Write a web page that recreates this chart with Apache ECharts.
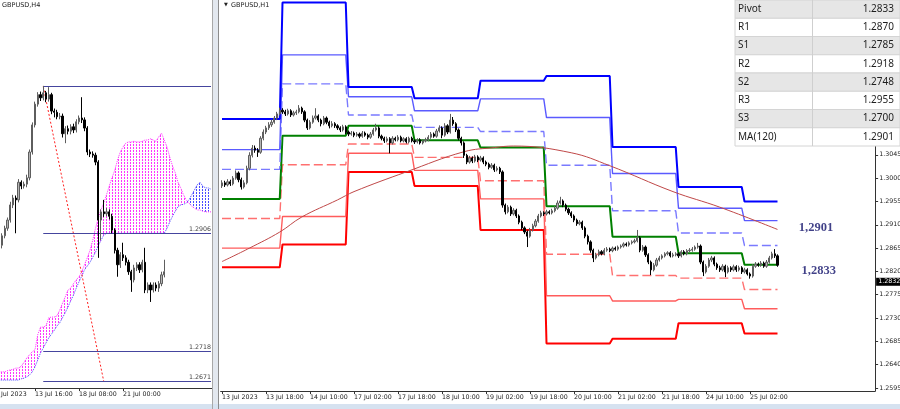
<!DOCTYPE html>
<html><head><meta charset="utf-8">
<script src="https://cdn.jsdelivr.net/npm/echarts@6/dist/echarts.min.js"></script>
<style>html,body{margin:0;padding:0;background:#fff;overflow:hidden}#c{width:900px;height:409px}</style>
</head><body><div id="c"></div><script>
// ---------------- RIGHT PANEL (GBPUSD H1) ----------------
const rTickIdx = [0,16,32,48,64,80,96,112,128,144,160,176,192];
const rTickText = ['13 Jul 2023','13 Jul 18:00','14 Jul 10:00','17 Jul 02:00','17 Jul 18:00','18 Jul 10:00','19 Jul 02:00','19 Jul 18:00','20 Jul 10:00','21 Jul 02:00','21 Jul 18:00','24 Jul 10:00','25 Jul 02:00'];
const rYTicks = [1.2595,1.2640,1.2685,1.2730,1.2775,1.2820,1.2865,1.2910,1.2955,1.3000,1.3045];
const rOpen = [1.2985,1.2991,1.2987,1.2993,1.2989,1.3000,1.3010,1.2997,1.2983,1.2991,
1.3019,1.3044,1.3058,1.3054,1.3050,1.3077,1.3089,1.3097,1.3103,1.3108,
1.3116,1.3124,1.3131,1.3128,1.3124,1.3130,1.3122,1.3126,1.3128,1.3135,
1.3128,1.3112,1.3097,1.3108,1.3116,1.3120,1.3112,1.3105,1.3116,1.3108,
1.3101,1.3105,1.3101,1.3097,1.3093,1.3099,1.3089,1.3085,1.3087,1.3083,
1.3085,1.3081,1.3087,1.3083,1.3079,1.3085,1.3093,1.3097,1.3081,1.3077,
1.3072,1.3076,1.3068,1.3077,1.3074,1.3079,1.3072,1.3076,1.3070,1.3077,
1.3072,1.3070,1.3074,1.3068,1.3072,1.3074,1.3079,1.3085,1.3081,1.3091,
1.3097,1.3083,1.3101,1.3089,1.3112,1.3105,1.3093,1.3077,1.3068,1.3044,
1.3031,1.3039,1.3033,1.3041,1.3035,1.3039,1.3031,1.3027,1.3021,1.3025,
1.3016,1.3019,1.3012,1.2948,1.2935,1.2944,1.2931,1.2938,1.2927,1.2915,
1.2904,1.2896,1.2888,1.2900,1.2908,1.2917,1.2927,1.2933,1.2931,1.2935,
1.2933,1.2937,1.2942,1.2952,1.2956,1.2948,1.2940,1.2933,1.2927,1.2919,
1.2912,1.2915,1.2904,1.2888,1.2877,1.2861,1.2846,1.2852,1.2858,1.2854,
1.2861,1.2863,1.2860,1.2865,1.2863,1.2867,1.2869,1.2873,1.2871,1.2875,
1.2877,1.2879,1.2885,1.2861,1.2867,1.2852,1.2838,1.2823,1.2832,1.2842,
1.2846,1.2850,1.2854,1.2856,1.2850,1.2852,1.2854,1.2850,1.2858,1.2854,
1.2860,1.2861,1.2863,1.2867,1.2869,1.2838,1.2819,1.2830,1.2842,1.2846,
1.2834,1.2827,1.2823,1.2830,1.2819,1.2827,1.2823,1.2829,1.2823,1.2827,
1.2819,1.2823,1.2815,1.2811,1.2830,1.2834,1.2832,1.2836,1.2830,1.2838,
1.2846,1.2854,1.2850];
const rClose = [1.2991,1.2987,1.2993,1.2989,1.3000,1.3010,1.2997,1.2983,1.2991,1.3019,
1.3044,1.3058,1.3054,1.3050,1.3077,1.3089,1.3097,1.3103,1.3108,1.3116,
1.3124,1.3131,1.3128,1.3124,1.3130,1.3122,1.3126,1.3128,1.3135,1.3128,
1.3112,1.3097,1.3108,1.3116,1.3120,1.3112,1.3105,1.3116,1.3108,1.3101,
1.3105,1.3101,1.3097,1.3093,1.3099,1.3089,1.3085,1.3087,1.3083,1.3085,
1.3081,1.3087,1.3083,1.3079,1.3085,1.3093,1.3097,1.3081,1.3077,1.3072,
1.3076,1.3068,1.3077,1.3074,1.3079,1.3072,1.3076,1.3070,1.3077,1.3072,
1.3070,1.3074,1.3068,1.3072,1.3074,1.3079,1.3085,1.3081,1.3091,1.3097,
1.3083,1.3101,1.3089,1.3112,1.3105,1.3093,1.3077,1.3068,1.3044,1.3031,
1.3039,1.3033,1.3041,1.3035,1.3039,1.3031,1.3027,1.3021,1.3025,1.3016,
1.3019,1.3012,1.2948,1.2935,1.2944,1.2931,1.2938,1.2927,1.2915,1.2904,
1.2896,1.2888,1.2900,1.2908,1.2917,1.2927,1.2933,1.2931,1.2935,1.2933,
1.2937,1.2942,1.2952,1.2956,1.2948,1.2940,1.2933,1.2927,1.2919,1.2912,
1.2915,1.2904,1.2888,1.2877,1.2861,1.2846,1.2852,1.2858,1.2854,1.2861,
1.2863,1.2860,1.2865,1.2863,1.2867,1.2869,1.2873,1.2871,1.2875,1.2877,
1.2879,1.2885,1.2861,1.2867,1.2852,1.2838,1.2823,1.2832,1.2842,1.2846,
1.2850,1.2854,1.2856,1.2850,1.2852,1.2854,1.2850,1.2858,1.2854,1.2860,
1.2861,1.2863,1.2867,1.2869,1.2838,1.2819,1.2830,1.2842,1.2846,1.2834,
1.2827,1.2823,1.2830,1.2819,1.2827,1.2823,1.2829,1.2823,1.2827,1.2819,
1.2823,1.2815,1.2811,1.2830,1.2834,1.2832,1.2836,1.2830,1.2838,1.2846,
1.2854,1.2850,1.2832];
const rHigh = [1.2996,1.2995,1.2998,1.2997,1.3004,1.3015,1.3013,1.3001,1.2996,1.3024,
1.3050,1.3064,1.3063,1.3058,1.3081,1.3094,1.3101,1.3108,1.3113,1.3120,
1.3128,1.3136,1.3135,1.3132,1.3134,1.3133,1.3130,1.3132,1.3141,1.3138,
1.3131,1.3115,1.3112,1.3121,1.3135,1.3123,1.3115,1.3120,1.3119,1.3111,
1.3110,1.3108,1.3104,1.3100,1.3103,1.3102,1.3092,1.3091,1.3090,1.3089,
1.3088,1.3091,1.3090,1.3086,1.3089,1.3097,1.3105,1.3100,1.3084,1.3080,
1.3080,1.3079,1.3081,1.3080,1.3083,1.3082,1.3079,1.3079,1.3080,1.3080,
1.3075,1.3077,1.3077,1.3075,1.3078,1.3083,1.3089,1.3088,1.3095,1.3102,
1.3100,1.3106,1.3104,1.3124,1.3118,1.3108,1.3096,1.3080,1.3071,1.3047,
1.3043,1.3042,1.3045,1.3044,1.3043,1.3042,1.3034,1.3030,1.3029,1.3028,
1.3023,1.3022,1.3015,1.2951,1.2948,1.2947,1.2942,1.2941,1.2930,1.2918,
1.2907,1.2899,1.2904,1.2912,1.2921,1.2931,1.2937,1.2936,1.2939,1.2938,
1.2941,1.2946,1.2957,1.2964,1.2959,1.2951,1.2943,1.2936,1.2930,1.2922,
1.2919,1.2918,1.2907,1.2891,1.2880,1.2864,1.2856,1.2862,1.2861,1.2865,
1.2867,1.2866,1.2868,1.2868,1.2870,1.2872,1.2876,1.2876,1.2878,1.2880,
1.2883,1.2900,1.2888,1.2871,1.2870,1.2855,1.2841,1.2836,1.2846,1.2850,
1.2853,1.2857,1.2859,1.2859,1.2856,1.2857,1.2857,1.2861,1.2861,1.2863,
1.2865,1.2867,1.2870,1.2875,1.2872,1.2841,1.2834,1.2846,1.2850,1.2849,
1.2837,1.2831,1.2834,1.2833,1.2831,1.2830,1.2833,1.2832,1.2831,1.2830,
1.2827,1.2826,1.2818,1.2834,1.2838,1.2837,1.2840,1.2839,1.2842,1.2850,
1.2858,1.2863,1.2853];
const rLow = [1.2981,1.2983,1.2984,1.2985,1.2986,1.2997,1.2992,1.2978,1.2980,1.2988,
1.3015,1.3040,1.3049,1.3041,1.3047,1.3073,1.3085,1.3093,1.3099,1.3105,
1.3112,1.3121,1.3124,1.3120,1.3121,1.3118,1.3119,1.3122,1.3125,1.3124,
1.3108,1.3093,1.3094,1.3105,1.3113,1.3108,1.3100,1.3102,1.3104,1.3096,
1.3098,1.3097,1.3093,1.3089,1.3090,1.3085,1.3081,1.3082,1.3079,1.3080,
1.3077,1.3078,1.3080,1.3075,1.3076,1.3082,1.3090,1.3077,1.3073,1.3068,
1.3069,1.3048,1.3065,1.3071,1.3071,1.3069,1.3069,1.3067,1.3067,1.3069,
1.3066,1.3067,1.3065,1.3065,1.3069,1.3071,1.3076,1.3078,1.3078,1.3088,
1.3077,1.3080,1.3085,1.3086,1.3101,1.3089,1.3073,1.3063,1.3039,1.3027,
1.3028,1.3029,1.3030,1.3031,1.3032,1.3027,1.3023,1.3017,1.3018,1.3012,
1.3013,1.3008,1.2943,1.2930,1.2932,1.2927,1.2928,1.2923,1.2911,1.2900,
1.2892,1.2867,1.2885,1.2897,1.2905,1.2914,1.2924,1.2927,1.2928,1.2930,
1.2930,1.2934,1.2939,1.2949,1.2944,1.2936,1.2929,1.2923,1.2915,1.2908,
1.2909,1.2900,1.2884,1.2872,1.2856,1.2838,1.2843,1.2849,1.2851,1.2851,
1.2858,1.2857,1.2857,1.2860,1.2860,1.2864,1.2866,1.2868,1.2868,1.2872,
1.2874,1.2876,1.2857,1.2858,1.2848,1.2834,1.2813,1.2820,1.2829,1.2839,
1.2843,1.2847,1.2851,1.2847,1.2847,1.2849,1.2846,1.2847,1.2851,1.2851,
1.2857,1.2858,1.2860,1.2864,1.2834,1.2811,1.2816,1.2827,1.2838,1.2830,
1.2823,1.2819,1.2820,1.2809,1.2816,1.2819,1.2820,1.2819,1.2820,1.2815,
1.2816,1.2812,1.2806,1.2808,1.2827,1.2829,1.2829,1.2827,1.2827,1.2835,
1.2843,1.2846,1.2829];
// daily pivot levels: 13,14,17,18,19,20,21,24,25 Jul
const rDayBars = [22,24,24,24,24,24,24,24,13];
const R3 = [1.3114,1.3339,1.3176,1.3154,1.3188,1.3197,1.3060,1.2983,1.2955];
const R2 = [1.3055,1.3238,1.3157,1.3130,1.3153,1.3117,1.3009,1.2942,1.2918];
const R1 = [1.3017,1.3182,1.3122,1.3098,1.3090,1.3025,1.2937,1.2894,1.2870];
const PP = [1.2960,1.3082,1.3101,1.3073,1.3059,1.2946,1.2887,1.2855,1.2833];
const S1 = [1.2922,1.3026,1.3066,1.3040,1.2995,1.2853,1.2812,1.2807,1.2785];
const S2 = [1.2865,1.2926,1.3048,1.3015,1.2960,1.2773,1.2763,1.2766,1.2748];
const S3 = [1.2828,1.2872,1.3012,1.2985,1.2900,1.2681,1.2690,1.2720,1.2700];
const rMA = [[0,1.2839],[10,1.2865],[21,1.2896],[29,1.2925],[42,1.2958],[48,1.2974],[67,1.3012],[88,1.3051],[99,1.3059],[106,1.3062],[127,1.3049],[141,1.3024],[164,1.2974],[181,1.2944],[202,1.2901]];
const lastPrice = 1.2832;
const annotations = [['1,2901',216,1.2904],['1,2833',217,1.2821]];
const tLabels = ['Pivot','R1','S1','R2','S2','R3','S3','MA(120)'];
const tValues = ['1.2833','1.2870','1.2785','1.2918','1.2748','1.2955','1.2700','1.2901'];

// ---------------- LEFT PANEL (GBPUSD H4) ----------------
const lTickIdx = [0,16,32,48];
const lTickText = ['11 Jul 2023','13 Jul 16:00','18 Jul 08:00','21 Jul 00:00'];
const lStart = 4;
const lOpen = [1.2887,1.2902,1.2914,1.2927,1.2951,1.2962,1.2959,1.2987,1.2981,1.2984,
1.2994,1.3035,1.3078,1.3111,1.3126,1.3121,1.3129,1.3119,1.3126,1.3100,
1.3098,1.3091,1.3092,1.3064,1.3072,1.3068,1.3075,1.3070,1.3083,1.3089,
1.3086,1.3073,1.3035,1.3032,1.3030,1.3019,1.2927,1.2940,1.2937,1.2940,
1.2933,1.2911,1.2879,1.2856,1.2872,1.2867,1.2860,1.2845,1.2832,1.2851,
1.2856,1.2848,1.2860,1.2816,1.2824,1.2816,1.2824,1.2819,1.2826,1.2840];
const lClose = [1.2902,1.2914,1.2927,1.2951,1.2962,1.2959,1.2987,1.2981,1.2984,1.2994,
1.3035,1.3078,1.3111,1.3126,1.3121,1.3129,1.3119,1.3126,1.3100,1.3098,
1.3091,1.3092,1.3064,1.3072,1.3068,1.3075,1.3070,1.3083,1.3089,1.3086,
1.3073,1.3035,1.3032,1.3030,1.3019,1.2927,1.2940,1.2937,1.2940,1.2933,
1.2911,1.2879,1.2856,1.2872,1.2867,1.2860,1.2845,1.2832,1.2851,1.2856,
1.2848,1.2860,1.2816,1.2824,1.2816,1.2824,1.2819,1.2826,1.2840,1.2845];
const lLow = [1.2882,1.2898,1.2910,1.2923,1.2946,1.2906,1.2955,1.2976,1.2977,1.2979,
1.2990,1.3031,1.3074,1.3107,1.3116,1.3117,1.3114,1.3115,1.3095,1.3090,
1.3087,1.3087,1.3058,1.3049,1.3063,1.3063,1.3065,1.3066,1.3079,1.3081,
1.3068,1.3030,1.3027,1.3026,1.3014,1.2867,1.2895,1.2932,1.2933,1.2928,
1.2906,1.2874,1.2837,1.2851,1.2862,1.2855,1.2840,1.2813,1.2828,1.2846,
1.2843,1.2844,1.2811,1.2811,1.2797,1.2812,1.2814,1.2813,1.2822,1.2836];
const lHigh = [1.2906,1.2918,1.2931,1.2956,1.2967,1.2966,1.2992,1.2990,1.2988,1.2999,
1.3039,1.3082,1.3115,1.3130,1.3131,1.3140,1.3132,1.3138,1.3129,1.3104,
1.3102,1.3097,1.3096,1.3076,1.3077,1.3079,1.3080,1.3087,1.3093,1.3122,
1.3090,1.3076,1.3039,1.3036,1.3034,1.3022,1.2944,1.2959,1.2946,1.2944,
1.2937,1.2914,1.2883,1.2876,1.2891,1.2871,1.2864,1.2848,1.2856,1.2860,
1.2860,1.2864,1.2883,1.2828,1.2828,1.2828,1.2828,1.2830,1.2845,1.2864];
// Ichimoku cloud spans, from bar 3 to bar 80
const cloudStart = 3;
const spanA = [1.2686,1.2686,1.2686,1.2688,1.2689,1.2690,1.2692,1.2692,1.2695,1.2701,
1.2708,1.2713,1.2718,1.2721,1.2745,1.2757,1.2757,1.2759,1.2772,1.2773,
1.2773,1.2775,1.2784,1.2795,1.2805,1.2816,1.2819,1.2826,1.2832,1.2837,
1.2845,1.2856,1.2867,1.2879,1.2895,1.2914,1.2930,1.2943,1.2954,1.2967,
1.2981,1.2994,1.3006,1.3022,1.3035,1.3043,1.3049,1.3051,1.3051,1.3052,
1.3051,1.3051,1.3052,1.3054,1.3054,1.3056,1.3054,1.3052,1.3059,1.3065,
1.3054,1.3043,1.3027,1.3013,1.3002,1.2987,1.2978,1.2967,1.2959,1.2954,
1.2949,1.2946,1.2943,1.2943,1.2941,1.2940,1.2940,1.2940];
const spanB = [1.2673,1.2673,1.2673,1.2673,1.2673,1.2673,1.2673,1.2673,1.2675,1.2676,
1.2678,1.2681,1.2686,1.2694,1.2705,1.2716,1.2724,1.2732,1.2740,1.2746,
1.2752,1.2759,1.2764,1.2772,1.2780,1.2789,1.2799,1.2808,1.2819,1.2829,
1.2838,1.2848,1.2854,1.2860,1.2868,1.2876,1.2886,1.2895,1.2903,1.2906,
1.2906,1.2906,1.2906,1.2906,1.2906,1.2906,1.2906,1.2906,1.2906,1.2906,
1.2906,1.2906,1.2906,1.2906,1.2906,1.2906,1.2906,1.2906,1.2906,1.2906,
1.2906,1.2914,1.2924,1.2933,1.2941,1.2948,1.2951,1.2952,1.2954,1.2959,
1.2967,1.2975,1.2983,1.2987,1.2981,1.2978,1.2978,1.2976];
const lLevels = [1.3139,1.2906,1.2718,1.2671];
const lLevelText = ['','1.2906','1.2718','1.2671'];
const lLevelFrom = 19, lLevelTo = 80;
const lDiag = [[19,1.3139],[41,1.2671]];

// ---------------- build ----------------
const R_N = 238, L_N = 81;
const rCats = []; for (let i = 0; i < R_N; i++) rCats.push(String(i));
const lCats = []; for (let i = 0; i < L_N; i++) lCats.push(String(i));
const rTickMap = {}; rTickIdx.forEach((k, i) => rTickMap[k] = rTickText[i]);
const lTickMap = {}; lTickIdx.forEach((k, i) => lTickMap[k] = lTickText[i]);
const rCandles = rOpen.map((o, i) => [i, o, rClose[i], rLow[i], rHigh[i]]);
const lCandles = lOpen.map((o, i) => [lStart + i, o, lClose[i], lLow[i], lHigh[i]]);
function expandDays(levels) { const out = []; levels.forEach((v, d) => { for (let k = 0; k < rDayBars[d]; k++) out.push(v); }); return out; }
const cBase = [], cPink = [], cBlue = [], cA = [], cB = [];
for (let i = 0; i < L_N; i++) {
  const j = i - cloudStart;
  if (j < 0 || j >= spanA.length) { cBase.push('-'); cPink.push('-'); cBlue.push('-'); cA.push('-'); cB.push('-'); continue; }
  const a = spanA[j], b = spanB[j];
  cBase.push(Math.min(a, b)); cPink.push(Math.max(a - b, 0)); cBlue.push(Math.max(b - a, 0));
  cA.push(a); cB.push(b);
}
function hatch(color) { const c = document.createElement('canvas'); c.width = 3; c.height = 3; const g = c.getContext('2d'); g.fillStyle = color; g.fillRect(1, 0, 1, 2); return c; }

const axisFont = { fontSize: 6.3, color: '#222', fontFamily: 'DejaVu Sans' };
const candleStyle = { color: '#b4b4b4', color0: '#000000', borderColor: '#5e5e5e', borderColor0: '#000000', borderWidth: 1 };

function levelSeries(levels, color, width, type) {
  return { type: 'line', xAxisIndex: 1, yAxisIndex: 1, data: expandDays(levels), symbol: 'none', silent: true, z: 3,
    lineStyle: { color: color, width: width, type: type || 'solid' } };
}

const tableGraphics = [];
const rowH = 18.25, tx0 = 735, tx1 = 812.5, tx2 = 900;
tLabels.forEach((lab, i) => {
  const y = i * rowH;
  tableGraphics.push({ type: 'rect', z: 100, shape: { x: tx0, y: y, width: tx2 - tx0, height: rowH }, style: { fill: i % 2 === 0 ? '#e6e6e6' : '#ffffff', stroke: '#d4d4d4', lineWidth: 1 } });
  tableGraphics.push({ type: 'text', z: 101, style: { text: lab, x: tx0 + 3, y: y + rowH / 2, font: '10px "Noto Sans"', fill: '#1e1e1e', verticalAlign: 'middle' } });
  tableGraphics.push({ type: 'text', z: 101, style: { text: tValues[i], x: tx2 - 6, y: y + rowH / 2, font: '10px "Noto Sans"', fill: '#1e1e1e', verticalAlign: 'middle', align: 'right' } });
});
tableGraphics.push({ type: 'line', z: 101, shape: { x1: tx1, y1: 0, x2: tx1, y2: rowH * 8 }, style: { stroke: '#cfcfcf', lineWidth: 1 } });

const option = {
  animation: false,
  backgroundColor: '#ffffff',
  grid: [
    { left: -10.375, top: 0, width: 222.75, height: 388, outerBoundsMode: 'none' },
    { left: 220.625, top: 1, width: 654.5, height: 390, outerBoundsMode: 'none' }
  ],
  xAxis: [
    { type: 'category', gridIndex: 0, data: lCats, boundaryGap: true,
      axisLine: { lineStyle: { color: '#333', width: 1 } },
      axisTick: { show: true, alignWithLabel: true, length: 3, interval: (i) => i in lTickMap, lineStyle: { color: '#333' } },
      axisLabel: Object.assign({ interval: (i) => i in lTickMap, formatter: (v, i) => lTickMap[i] || '', align: 'left', margin: 3 }, axisFont),
      splitLine: { show: false } },
    { type: 'category', gridIndex: 1, data: rCats, boundaryGap: true,
      axisLine: { lineStyle: { color: '#333', width: 1 } },
      axisTick: { show: true, alignWithLabel: true, length: 3, interval: (i) => i in rTickMap, lineStyle: { color: '#333' } },
      axisLabel: Object.assign({ interval: (i) => i in rTickMap, formatter: (v, i) => rTickMap[i] || '', align: 'left', margin: 3 }, axisFont),
      splitLine: { show: false } }
  ],
  yAxis: [
    { type: 'value', gridIndex: 0, min: 1.26604, max: 1.32763, show: false, splitLine: { show: false } },
    { type: 'value', gridIndex: 1, position: 'right', min: 1.25892, max: 1.33419,
      axisLine: { show: true, lineStyle: { color: '#333' } },
      axisTick: { show: true, length: 3, customValues: rYTicks, lineStyle: { color: '#333' } },
      axisLabel: Object.assign({ customValues: rYTicks, formatter: (v) => v.toFixed(4), margin: 4 }, axisFont),
      splitLine: { show: false } }
  ],
  series: [
    // ---- left panel ----
    { type: 'line', xAxisIndex: 0, yAxisIndex: 0, stack: 'cloud', data: cBase, symbol: 'none', silent: true, lineStyle: { opacity: 0 }, z: 1 },
    { type: 'line', xAxisIndex: 0, yAxisIndex: 0, stack: 'cloud', data: cPink, symbol: 'none', silent: true, lineStyle: { opacity: 0 }, z: 1,
      areaStyle: { color: { image: hatch('#ff33ff'), repeat: 'repeat' }, opacity: 1 } },
    { type: 'line', xAxisIndex: 0, yAxisIndex: 0, stack: 'cloud', data: cBlue, symbol: 'none', silent: true, lineStyle: { opacity: 0 }, z: 1,
      areaStyle: { color: { image: hatch('#4a4aff'), repeat: 'repeat' }, opacity: 1 } },
    { type: 'line', xAxisIndex: 0, yAxisIndex: 0, data: cA, symbol: 'none', silent: true, z: 2, lineStyle: { color: '#ff33ff', width: 1, type: 'dotted' } },
    { type: 'line', xAxisIndex: 0, yAxisIndex: 0, data: cB, symbol: 'none', silent: true, z: 2, lineStyle: { color: '#4a4aff', width: 1, type: 'dotted' } },
    { type: 'line', xAxisIndex: 0, yAxisIndex: 0, data: lDiag, symbol: 'none', silent: true, z: 2, lineStyle: { color: '#ff2020', width: 1, type: [2, 2] } },
    { type: 'candlestick', xAxisIndex: 0, yAxisIndex: 0, data: lCandles, encode: { x: 0, y: [1, 2, 3, 4] }, barWidth: 1.6, itemStyle: candleStyle, z: 5, silent: true,
      markLine: { silent: true, symbol: ['none', 'none'], animation: false,
        data: lLevels.map((v, i) => [
          { coord: [lLevelFrom, v], lineStyle: { color: '#45459e', width: 1, type: 'solid' },
            label: { show: !!lLevelText[i], formatter: lLevelText[i], position: 'insideEndTop', distance: [0, 1], fontSize: 6.3, color: '#444', fontFamily: 'DejaVu Sans' } },
          { coord: [lLevelTo, v] }
        ]) } },
    // ---- right panel ----
    levelSeries(S3, '#ff0000', 2),
    levelSeries(S2, '#ff5c5c', 1.4),
    levelSeries(S1, '#ff7070', 1.4, [9, 4]),
    levelSeries(PP, '#008000', 2),
    levelSeries(R1, '#7a7aff', 1.4, [9, 4]),
    levelSeries(R2, '#5a5aff', 1.4),
    levelSeries(R3, '#0000ff', 2),
    { type: 'line', xAxisIndex: 1, yAxisIndex: 1, data: rMA, symbol: 'none', smooth: 0.4, silent: true, z: 4, lineStyle: { color: '#c04848', width: 1 } },
    { type: 'candlestick', xAxisIndex: 1, yAxisIndex: 1, data: rCandles, encode: { x: 0, y: [1, 2, 3, 4] }, barWidth: 1.6, itemStyle: candleStyle, z: 5, silent: true,
      markLine: { silent: true, symbol: ['none', 'none'], animation: false,
        data: [{ yAxis: lastPrice, lineStyle: { color: 'rgba(0,0,0,0)', width: 0 },
          label: { show: true, position: 'end', distance: 1, formatter: lastPrice.toFixed(4), backgroundColor: '#000', color: '#fff', fontSize: 6.3, fontFamily: 'DejaVu Sans', padding: [1, 2, 1, 2] } }] } },
    { type: 'scatter', xAxisIndex: 1, yAxisIndex: 1, symbolSize: 0, silent: true, z: 6,
      data: annotations.map(a => [a[1], a[2], a[0]]),
      label: { show: true, position: 'inside', formatter: (p) => p.value[2], fontFamily: '"Liberation Serif", serif', fontWeight: 'bold', fontSize: 12.5, color: '#12126a' } }
  ],
  graphic: [
    { type: 'rect', z: 100, shape: { x: 212.5, y: 0, width: 6, height: 409 }, style: { fill: '#e3e8ef' } },
    { type: 'line', z: 101, shape: { x1: 212.5, y1: 0, x2: 212.5, y2: 409 }, style: { stroke: '#a8a8a8', lineWidth: 1 } },
    { type: 'line', z: 101, shape: { x1: 218.5, y1: 0, x2: 218.5, y2: 409 }, style: { stroke: '#8c8c8c', lineWidth: 1 } },
    { type: 'rect', z: 100, shape: { x: 0, y: 404, width: 900, height: 5 }, style: { fill: '#d6e2f0' } },
    { type: 'text', z: 101, style: { text: 'GBPUSD,H4', x: 2, y: 2, font: '6.5px "DejaVu Sans"', fill: '#222' } },
    { type: 'text', z: 101, style: { text: '\u25BC', x: 224, y: 2.5, font: '5px "DejaVu Sans"', fill: '#222' } },
    { type: 'text', z: 101, style: { text: 'GBPUSD,H1', x: 231, y: 2, font: '6.5px "DejaVu Sans"', fill: '#222' } }
  ].concat(tableGraphics)
};
const chart = echarts.init(document.getElementById('c'), null, { renderer: 'canvas', width: 900, height: 409 });
chart.setOption(option);
</script></body></html>
